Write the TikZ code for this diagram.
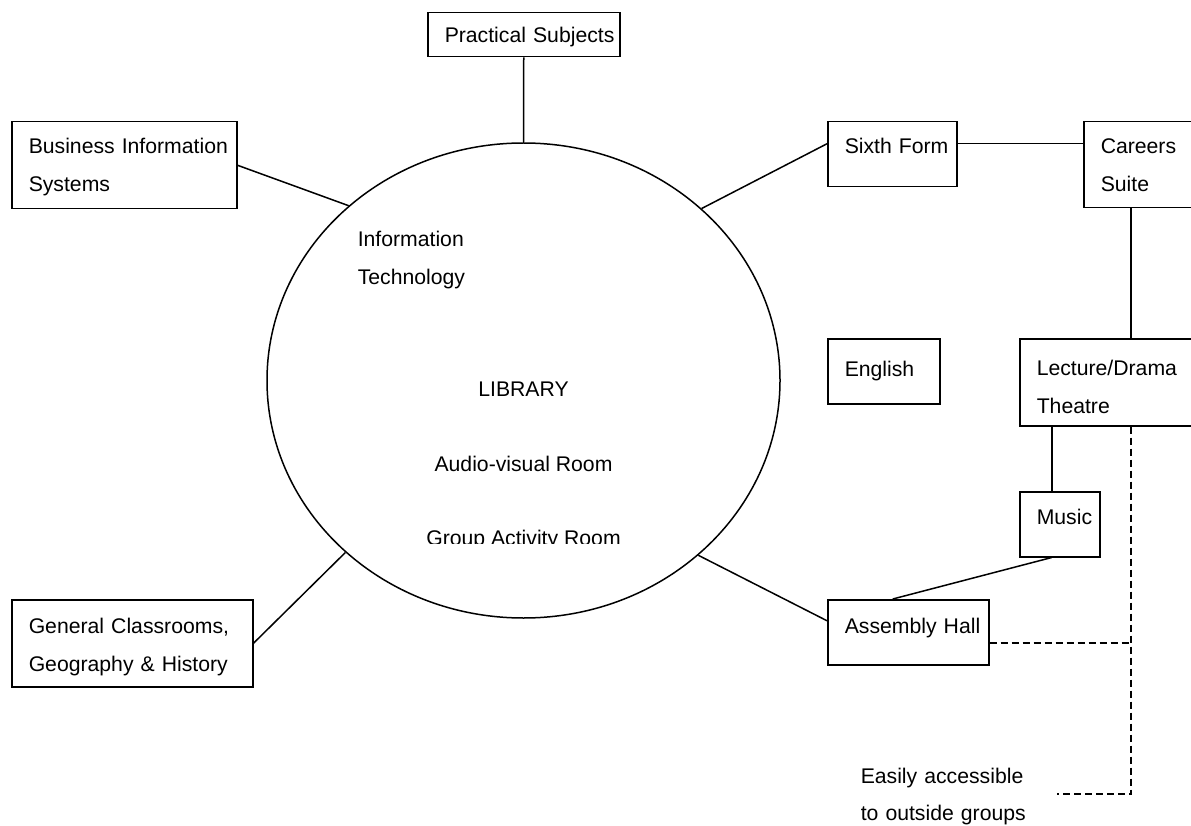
\documentclass[tikz,border=0pt]{standalone}
\usepackage{fontspec}
\setmainfont{Liberation Sans}
\usetikzlibrary{shapes.geometric}

\begin{document}
\begin{tikzpicture}[x=1pt,y=-1pt,line width=1.5pt,
    room/.style={draw, anchor=north west, inner xsep=17pt, inner ysep=0pt, align=left},
    dashed/.style={dash pattern=on 7pt off 4pt},
    font=\fontsize{21.2}{37.5}\selectfont]
  \useasboundingbox (0,0) rectangle (1191,826);

  % the library in the middle
  \node[ellipse, draw, minimum width=513pt, minimum height=475pt, inner sep=0pt] (lib) at (523.5,380.5) {};
  \node[anchor=base west, align=left, text width=150pt, inner sep=0pt] (it) at (357,247) {Information\\Technology};
  \node[anchor=base, inner sep=0pt] (library) at (523.5,396) {LIBRARY};
  \node[anchor=base, inner sep=0pt] (av) at (523.5,471) {Audio-visual Room};
  \begin{scope}
    \clip (300,500) rectangle (750,543);
    \node[anchor=base, inner sep=0pt] (group) at (523.5,545) {Group Activity Room};
  \end{scope}

  % rooms round it
  \node[room, text width=158pt, text height=30pt, text depth=14pt] (prac) at (427,12) {\mbox{Practical Subjects}};
  \node[room, text width=191pt, text height=32pt, text depth=55pt] (bis) at (11,121) {\mbox{Business Information}\\Systems};
  \node[room, text width=207pt, text height=34pt, text depth=53pt] (gen) at (11,599) {\mbox{General Classrooms,}\\\mbox{Geography \& History}};
  \node[room, text width=95pt, text height=32pt, text depth=33pt] (sixth) at (827,121) {\mbox{Sixth Form}};
  \node[room, text width=116pt, text height=32pt, text depth=54pt] (careers) at (1083,121) {Careers\\Suite};
  \node[room, text width=78pt, text height=38pt, text depth=27pt] (english) at (827,338) {English};
  \node[room, text width=166pt, text height=37pt, text depth=50pt] (lecture) at (1019,338) {Lecture/Drama\\Theatre};
  \node[room, text width=46pt, text height=33pt, text depth=32pt] (music) at (1019,491) {\mbox{Music}};
  \node[room, text width=127pt, text height=34pt, text depth=31pt] (hall) at (827,599) {\mbox{Assembly Hall}};

  \node[anchor=base west, align=left, text width=200pt, inner sep=0pt] (note) at (860,783) {Easily accessible\\to outside groups};
  \coordinate (corner) at (1131,794);
  \coordinate (noteend) at (1057,794);

  % links
  \draw (prac.south) -- (lib.north);
  \draw (bis.east) -- (lib.135.7);
  \draw (gen.east) -- (lib.224.7);
  \draw (lib.44.5) -- ([yshift=10.5pt]sixth.west);
  \draw ([yshift=10.5pt]sixth.east) -- ([yshift=10.5pt]sixth.east -| careers.west);
  \draw ([xshift=48pt]careers.south west) -- ([xshift=48pt]careers.south west |- lecture.north);
  \draw ([xshift=-8pt]music.north) -- ([xshift=-8pt]music.north |- lecture.south);
  \draw ([xshift=-8pt]music.south) -- ([xshift=-15.5pt]hall.north);
  \draw (lib.-45) -- ([yshift=11.5pt]hall.west);

  % outside access
  \draw[dashed] ([xshift=112pt]lecture.south west) -- (corner) -- (noteend);
  \draw[dashed] ([yshift=-10.5pt]hall.east) -- ([yshift=-10.5pt]hall.east -| corner);
\end{tikzpicture}
\end{document}
